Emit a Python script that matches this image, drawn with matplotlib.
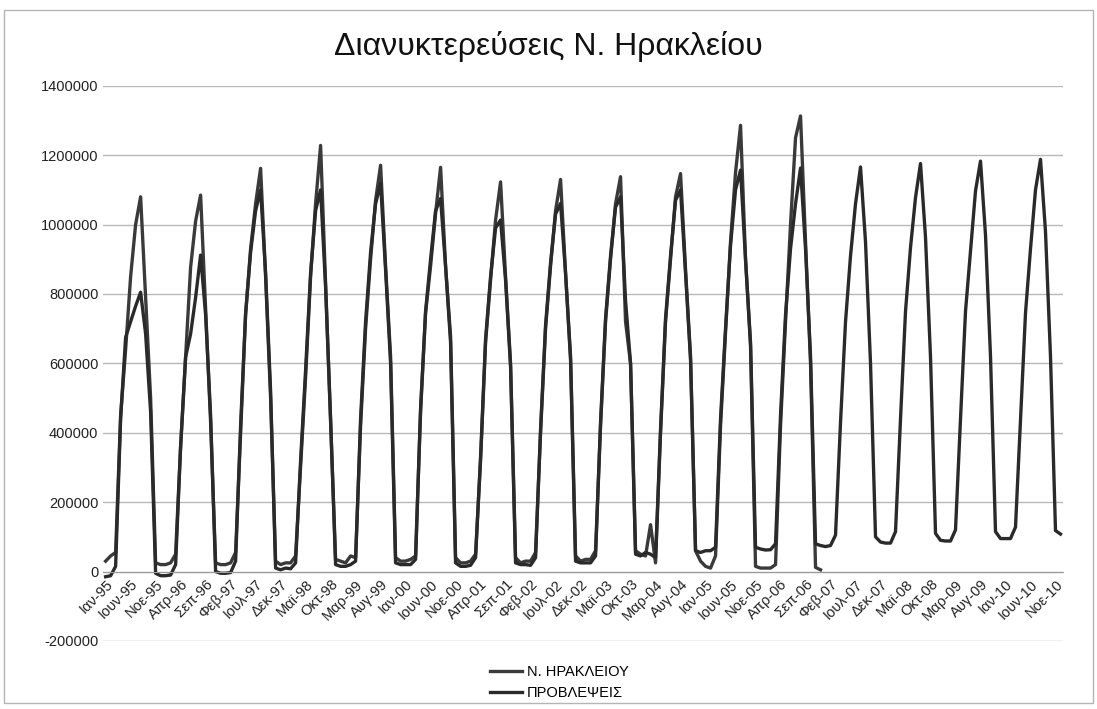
import matplotlib.pyplot as plt
from matplotlib.patches import Rectangle

plt.rcParams['font.family'] = ['Liberation Sans', 'DejaVu Sans']

# monthly values, thousands of overnight stays (Jan..Dec per row)
actual_k = [
    [30, 45, 55, 450, 640, 850, 1000, 1080, 790, 500, 25, 20],        # 1995
    [20, 25, 50, 360, 618, 877, 1010, 1085, 760, 430, 25, 20],        # 1996
    [20, 25, 55, 400, 742, 930, 1060, 1162, 850, 500, 30, 20],        # 1997
    [25, 25, 45, 300, 560, 850, 1060, 1228, 830, 430, 35, 30],        # 1998
    [25, 45, 40, 420, 700, 900, 1070, 1171, 880, 620, 40, 30],        # 1999
    [30, 35, 45, 460, 745, 880, 1032, 1165, 880, 678, 40, 25],        # 2000
    [25, 30, 50, 320, 660, 840, 1013, 1123, 850, 600, 40, 25],        # 2001
    [30, 30, 55, 400, 700, 880, 1040, 1130, 860, 620, 45, 30],        # 2002
    [35, 35, 60, 420, 720, 900, 1060, 1138, 720, 600, 60, 50],        # 2003
    [45, 135, 25, 400, 720, 900, 1080, 1147, 870, 620, 60, 30],       # 2004
    [15, 10, 45, 420, 690, 950, 1150, 1286, 900, 650, 15, 10],        # 2005
    [10, 10, 20, 420, 720, 1000, 1250, 1313, 950, 600, 12, 5],        # 2006
]

forecast_k = [
    [-15, -12, 15, 440, 675, 720, 765, 805, 685, 460, -5, -12],       # 1995
    [-12, -10, 20, 360, 618, 685, 790, 912, 740, 450, 0, -5],         # 1996
    [-5, -3, 30, 420, 742, 920, 1040, 1100, 860, 520, 10, 5],         # 1997
    [10, 8, 25, 320, 580, 860, 1040, 1100, 820, 440, 20, 15],         # 1998
    [15, 20, 30, 440, 720, 920, 1060, 1119, 870, 600, 25, 20],        # 1999
    [20, 20, 35, 470, 750, 900, 1040, 1075, 880, 660, 25, 15],        # 2000
    [15, 18, 40, 330, 670, 850, 990, 1013, 840, 590, 25, 20],         # 2001
    [20, 18, 40, 410, 710, 890, 1030, 1061, 860, 610, 30, 25],        # 2002
    [25, 25, 45, 430, 730, 910, 1050, 1080, 780, 600, 50, 45],        # 2003
    [55, 50, 40, 410, 730, 910, 1070, 1100, 860, 610, 60, 55],        # 2004
    [60, 60, 70, 440, 700, 940, 1100, 1157, 900, 660, 70, 65],        # 2005
    [62, 63, 80, 450, 740, 930, 1060, 1163, 930, 620, 80, 75],        # 2006
    [72, 75, 105, 430, 720, 910, 1060, 1166, 950, 600, 100, 85],      # 2007
    [82, 82, 115, 440, 750, 934, 1078, 1176, 963, 618, 110, 90],      # 2008
    [88, 88, 120, 440, 750, 925, 1097, 1183, 970, 620, 115, 95],      # 2009
    [95, 95, 128, 437, 745, 930, 1100, 1188, 980, 620, 118, 108],     # 2010
]

tick_labels = ['Ιαν-95', 'Ιουν-95', 'Νοε-95', 'Απρ-96', 'Σεπ-96', 'Φεβ-97', 'Ιουλ-97',
               'Δεκ-97', 'Μαϊ-98', 'Οκτ-98', 'Μαρ-99', 'Αυγ-99', 'Ιαν-00', 'Ιουν-00',
               'Νοε-00', 'Απρ-01', 'Σεπ-01', 'Φεβ-02', 'Ιουλ-02', 'Δεκ-02', 'Μαϊ-03',
               'Οκτ-03', 'Μαρ-04', 'Αυγ-04', 'Ιαν-05', 'Ιουν-05', 'Νοε-05', 'Απρ-06',
               'Σεπ-06', 'Φεβ-07', 'Ιουλ-07', 'Δεκ-07', 'Μαϊ-08', 'Οκτ-08', 'Μαρ-09',
               'Αυγ-09', 'Ιαν-10', 'Ιουν-10', 'Νοε-10']

actual = [v * 1000 for row in actual_k for v in row]
forecast = [v * 1000 for row in forecast_k for v in row]

fig = plt.figure(figsize=(10.97, 7.09), dpi=100)
fig.patches.append(Rectangle((0.004, 0.008), 0.992, 0.978, transform=fig.transFigure,
                             fill=False, edgecolor='#b5b5b5', linewidth=1))
ax = fig.add_axes([0.094, 0.096, 0.875, 0.783])

# category axis crosses at zero (set before ticks, it resets them)
for s in ['top', 'right', 'left']:
    ax.spines[s].set_visible(False)
ax.spines['bottom'].set_position(('data', 0))
ax.spines['bottom'].set_color('#9a9a9a')

ax.plot(range(len(actual)), actual, color='#3a3a3a', lw=2.4, label='Ν. ΗΡΑΚΛΕΙΟΥ')
ax.plot(range(len(forecast)), forecast, color='#2a2a2a', lw=2.4, label='ΠΡΟΒΛΕΨΕΙΣ')

ax.set_xlim(-0.5, len(forecast) - 0.5)
ax.set_ylim(-200000, 1400000)
yt = list(range(-200000, 1400001, 200000))
ax.set_yticks(yt)
ax.set_yticklabels([str(v) for v in yt], fontsize=10.5, color='#222222')
ax.yaxis.grid(True, color='#b8b8b8', lw=1)
ax.set_axisbelow(True)

ax.set_xticks(range(0, len(forecast), 5))
ax.set_xticklabels(tick_labels, fontsize=10.5, color='#222222')
ax.tick_params(axis='both', length=0)
ax.tick_params(axis='x', pad=4)
for lab in ax.get_xticklabels():
    lab.set_rotation(45)
    lab.set_ha('right')
    lab.set_rotation_mode('anchor')

fig.text(0.5, 0.935, 'Διανυκτερεύσεις Ν. Ηρακλείου', ha='center', va='center',
         fontsize=23, color='#111111')

fig.legend(loc='upper center', bbox_to_anchor=(0.51, 0.08), frameon=False,
           fontsize=10.5, handlelength=2.2, labelspacing=0.45, handletextpad=0.3)

fig.savefig('out.png', dpi=100)
